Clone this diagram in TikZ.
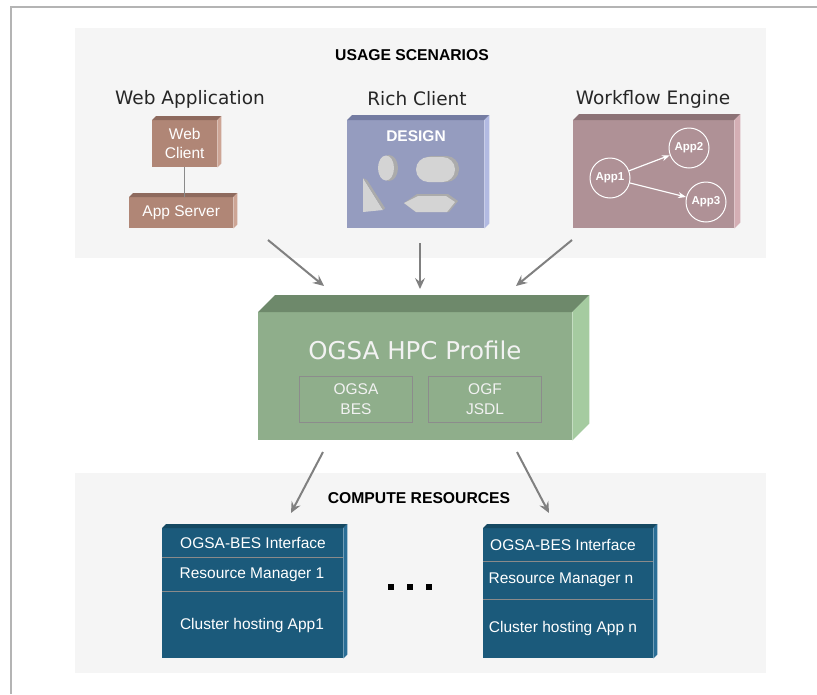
\documentclass[tikz,border=0pt]{standalone}
\usepackage{fontspec}
\setmainfont{Liberation Sans}
\newfontfamily\dvfont{DejaVu Sans}
\usetikzlibrary{arrows.meta,calc}
\definecolor{panelgray}{HTML}{F5F5F5}
\definecolor{framegray}{HTML}{B4B4B4}
\definecolor{arrowgray}{HTML}{808080}
\definecolor{brownF}{HTML}{B08676}
\definecolor{brownT}{HTML}{8E6A5E}
\definecolor{brownS}{HTML}{CDA595}
\definecolor{lavF}{HTML}{959CBF}
\definecolor{lavT}{HTML}{747CA2}
\definecolor{lavS}{HTML}{B2BAE2}
\definecolor{mauveF}{HTML}{AF9196}
\definecolor{mauveT}{HTML}{8C7276}
\definecolor{mauveS}{HTML}{D4AEB4}
\definecolor{greenF}{HTML}{8FAE8B}
\definecolor{greenT}{HTML}{6E896B}
\definecolor{greenS}{HTML}{A5CBA0}
\definecolor{navyF}{HTML}{1B5A7B}
\definecolor{navyT}{HTML}{154962}
\definecolor{navyS}{HTML}{2A6E96}
\definecolor{dividergray}{HTML}{8A8A8A}
\definecolor{shapeL}{HTML}{D4D4D4}
\definecolor{shapeD}{HTML}{ABABAB}
\newcommand\sidefaces[4]{%
  \fill[#3] (#1.north west) -- ++(#2,-#2) -- ($(#1.north east)+(#2,-#2)$) -- (#1.north east) -- cycle;
  \fill[#4] (#1.north east) -- ++(#2,-#2) -- ($(#1.south east)+(#2,-#2)$) -- (#1.south east) -- cycle;}
\begin{document}
\begin{tikzpicture}[x=1pt,y=-1pt,
  face/.style={rectangle, inner sep=0pt, anchor=north west, text=white, align=center},
  boxtext/.style={text=white, font=\fontsize{15.5}{18}\selectfont, inner sep=0pt},
  heading/.style={font=\dvfont\fontsize{18.5}{21}\selectfont, text=black!85},
  boldlabel/.style={font=\bfseries\fontsize{15.7}{18}\selectfont, text=black},
  bigarrow/.style={draw=arrowgray, line width=2pt, -{Stealth[length=11pt,width=10pt,inset=4pt]}},
  appnode/.style={circle, draw=white, line width=1pt, minimum size=40pt, inner sep=0pt, text=white, font=\bfseries\fontsize{11.5}{13}\selectfont},
  apparrow/.style={draw=white, line width=1.2pt, -{Stealth[length=8pt,width=6pt]}},
  dotsq/.style={rectangle, fill=black, minimum size=6pt, inner sep=0pt},
  divider/.style={draw=dividergray, line width=1pt}]
\useasboundingbox (0,0) rectangle (817,694);
\fill[white] (0,0) rectangle (817,694);
\draw[framegray, line width=1.5pt] (11,694) -- (11,7) -- (817,7);
% panels
\fill[panelgray] (75,28) rectangle (766,258);
\fill[panelgray] (75,473) rectangle (766,673);
\node[boldlabel] (usage) at (412,55) {USAGE SCENARIOS};
\node[boldlabel] (compute) at (419,498) {COMPUTE RESOURCES};
% headings
\node[heading] (hweb) at (190,99) {Web Application};
\node[heading] (hrich) at (417,99) {Rich Client};
\node[heading] (hwork) at (653,99) {Workflow Engine};
% web application
\node[face, fill=brownF, minimum width=65pt, minimum height=47pt, font=\fontsize{15.5}{19}\selectfont] (webclient) at (152,120) {Web\\Client};
\sidefaces{webclient}{4}{brownT}{brownS}
\node[face, fill=brownF, minimum width=104pt, minimum height=31pt, font=\fontsize{15.5}{18}\selectfont] (appserver) at (129,197) {App Server};
\sidefaces{appserver}{4}{brownT}{brownS}
\draw[dividergray, line width=1pt] (webclient.south) -- (appserver.north -| webclient.south);
% rich client
\node[face, fill=lavF, minimum width=137pt, minimum height=108pt] (design) at (347,120) {};
\sidefaces{design}{5}{lavT}{lavS}
\node[font=\bfseries\fontsize{15.5}{18}\selectfont, text=white] (designlbl) at (416,136) {DESIGN};
% design shapes
\fill[shapeD] (389,168) ellipse [x radius=9, y radius=13];
\fill[shapeL] (386,168) ellipse [x radius=8, y radius=12.5];
\fill[shapeD, rounded corners=12.5pt] (419,156) rectangle (459,182);
\fill[shapeL, rounded corners=12.5pt] (416,157) rectangle (455,182);
\fill[shapeL] (363,178) -- (383,210) -- (363,212) -- cycle;
\fill[shapeD] (363,178) -- (367,180) -- (385,208) -- (383,210) -- cycle;
\fill[shapeD] (404,203) -- (417,194) -- (448,194) -- (458,201) -- (449,212) -- (416,212) -- cycle;
\fill[shapeL] (404,203) -- (418,196) -- (446,196) -- (455,202) -- (447,212) -- (416,212) -- cycle;
% workflow engine
\node[face, fill=mauveF, minimum width=161pt, minimum height=108pt] (workflow) at (573,120) {};
\sidefaces{workflow}{6}{mauveT}{mauveS}
\node[appnode] (app1) at (610,178) {App1};
\node[appnode] (app2) at (689,148) {App2};
\node[appnode] (app3) at (706,202) {App3};
\draw[apparrow] (app1) -- (app2);
\draw[apparrow] (app1) -- (app3);
% HPC profile
\node[face, fill=greenF, minimum width=314pt, minimum height=128pt] (hpc) at (258,312) {};
\sidefaces{hpc}{17}{greenT}{greenS}
\node[font=\dvfont\fontsize{24.5}{28}\selectfont, text=white!95!black] (hpctitle) at (415,350) {OGSA HPC Profile};
\node[face, draw=black!45, line width=1pt, minimum width=113pt, minimum height=46pt, font=\fontsize{15.5}{20}\selectfont, text=white!95!black] (bes) at (299,376) {OGSA\\BES};
\node[face, draw=black!45, line width=1pt, minimum width=113pt, minimum height=46pt, font=\fontsize{15.5}{20}\selectfont, text=white!95!black] (jsdl) at (428,376) {OGF\\JSDL};
% arrows into HPC
\coordinate (s1) at (268,240);
\coordinate (s2) at (420,243);
\coordinate (s3) at (572,240);
\coordinate (e1) at (324,286);
\coordinate (e2) at (420,289);
\coordinate (e3) at (516,286);
\draw[bigarrow] (s1) -- (e1);
\draw[bigarrow] (s2) -- (e2);
\draw[bigarrow] (s3) -- (e3);
% arrows out of HPC
\coordinate (d1) at (323,452);
\coordinate (d2) at (517,452);
\coordinate (f1) at (291,513);
\coordinate (f2) at (549,513);
\draw[bigarrow] (d1) -- (f1);
\draw[bigarrow] (d2) -- (f2);
% compute resource 1
\node[face, fill=navyF, minimum width=181pt, minimum height=130pt] (cr1) at (162,528) {};
\sidefaces{cr1}{4}{navyT}{navyS}
\draw[divider] (162,557) -- (343,557);
\draw[divider] (162,591) -- (343,591);
\node[boxtext] (cr1a) at (253,543) {OGSA-BES Interface};
\node[boxtext] (cr1b) at (252,575) {Resource Manager 1};
\node[boxtext] (cr1c) at (252,625) {Cluster hosting App1};
% compute resource n
\node[face, fill=navyF, minimum width=170pt, minimum height=130pt] (crn) at (483,528) {};
\sidefaces{crn}{4}{navyT}{navyS}
\draw[divider] (483,561) -- (653,561);
\draw[divider] (483,599) -- (653,599);
\node[boxtext] (crna) at (563,545) {OGSA-BES Interface};
\node[boxtext] (crnb) at (561,580) {Resource Manager n};
\node[boxtext] (crnc) at (563,628) {Cluster hosting App n};
% dots
\node[dotsq] (dot1) at (391,587) {};
\node[dotsq] (dot2) at (410,587) {};
\node[dotsq] (dot3) at (429,587) {};
\end{tikzpicture}
\end{document}
